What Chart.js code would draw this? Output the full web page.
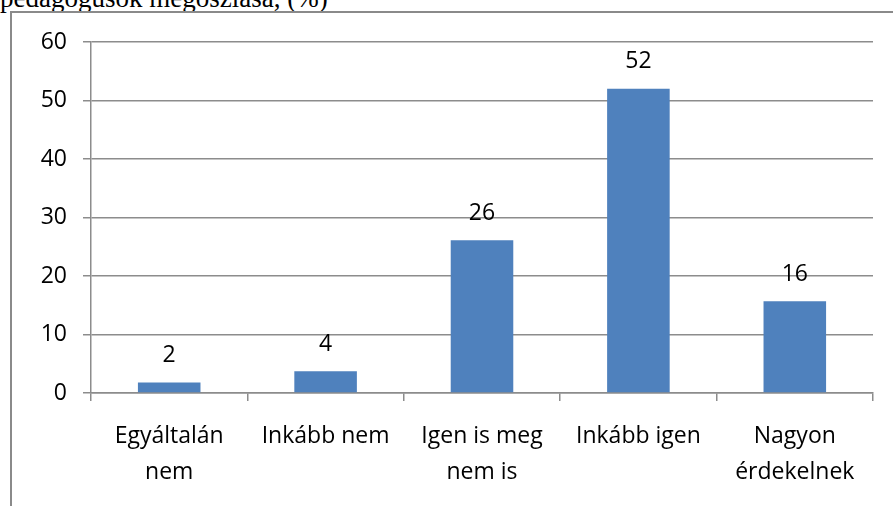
<!DOCTYPE html>
<html>
<head>
<meta charset="utf-8">
<script src="https://cdn.jsdelivr.net/npm/chart.js@4.4.1/dist/chart.umd.min.js"></script>
<style>
  html, body { margin: 0; padding: 0; background: #fff; }
  #wrap { position: relative; width: 893px; height: 506px; overflow: hidden; }
  #title {
    position: absolute; left: 0; top: -15px;
    font-family: "Liberation Serif", serif; font-size: 27px; color: #000;
    white-space: nowrap; line-height: 27px;
  }
  #frame {
    position: absolute; left: 10px; top: 11px; width: 900px; height: 520px;
    border-left: 2px solid #8a8a8a; border-top: 2px solid #8a8a8a;
  }
  canvas { position: absolute; left: 0; top: 0; }
</style>
</head>
<body>
<div id="wrap">
  <div id="title">pedagógusok megoszlása, (%)</div>
  <div id="frame"></div>
  <canvas id="chart" width="893" height="506"></canvas>
</div>
<script>
const categories = [
  ["Egyáltalán", "nem"],
  ["Inkább nem"],
  ["Igen is meg", "nem is"],
  ["Inkább igen"],
  ["Nagyon", "érdekelnek"]
];
const shares = [1.8, 3.7, 26.1, 52.0, 15.7];
const shareLabels = ["2", "4", "26", "52", "16"];
const yTicks = [0, 10, 20, 30, 40, 50, 60];

const tickFont = { family: "'Open Sans', sans-serif", size: 23, lineHeight: 1.56 };
const axisGray = "#8c8c8c";

const valueLabels = {
  id: "valueLabels",
  afterDatasetsDraw(chart) {
    const ctx = chart.ctx;
    const meta = chart.getDatasetMeta(0);
    ctx.save();
    ctx.font = "23px 'Open Sans', sans-serif";
    ctx.fillStyle = "#000";
    ctx.textAlign = "center";
    ctx.textBaseline = "middle";
    meta.data.forEach((bar, i) => {
      ctx.fillText(shareLabels[i], bar.x, bar.y - 27);
    });
    ctx.restore();
  }
};

new Chart(document.getElementById("chart"), {
  type: "bar",
  data: {
    labels: categories,
    datasets: [{
      data: shares,
      backgroundColor: "#4f81bd",
      barPercentage: 0.4,
      categoryPercentage: 1.0
    }]
  },
  plugins: [valueLabels],
  options: {
    responsive: false,
    animation: false,
    layout: { padding: { top: 42, right: 20, left: 0, bottom: 0 } },
    plugins: { legend: { display: false }, tooltip: { enabled: false } },
    scales: {
      x: {
        offset: true,
        grid: { display: true, drawOnChartArea: false, offset: true, tickLength: 8, color: axisGray, lineWidth: 1.5 },
        border: { color: axisGray, width: 1.5 },
        ticks: { font: tickFont, color: "#000", padding: 18, maxRotation: 0, autoSkip: false },
        afterFit: s => { s.height = 113; }
      },
      y: {
        min: 0,
        max: 60,
        afterBuildTicks: s => { s.ticks = yTicks.map(v => ({ value: v })); },
        grid: { color: axisGray, lineWidth: 1.5, tickLength: 8 },
        border: { color: axisGray, width: 1.5 },
        ticks: { font: { family: "'Open Sans', sans-serif", size: 23 }, color: "#000", padding: 16 },
        afterFit: s => { s.width = 91; }
      }
    }
  }
});
</script>
</body>
</html>
